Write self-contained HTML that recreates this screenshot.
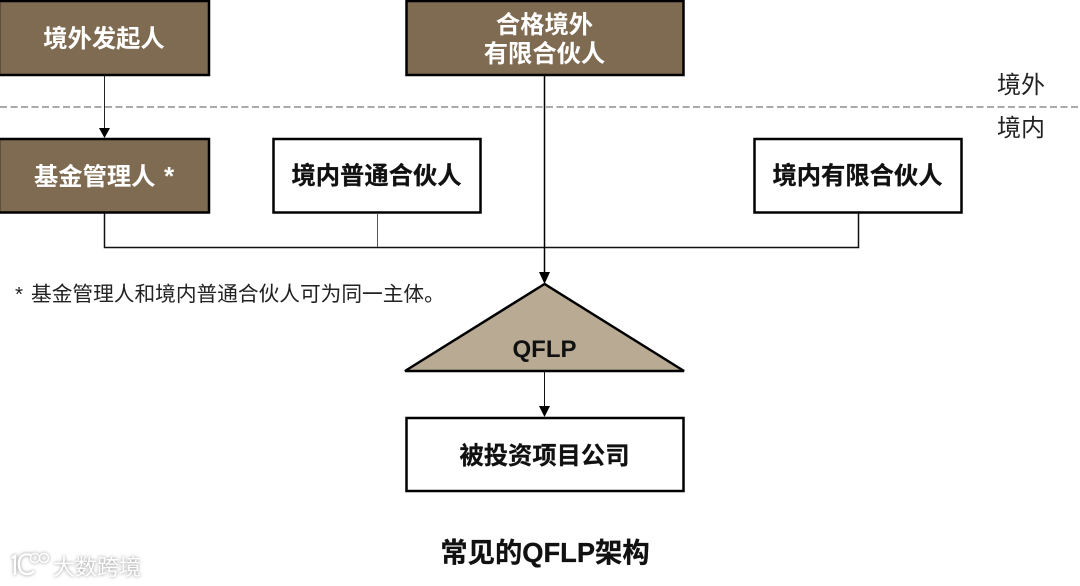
<!DOCTYPE html>
<html lang="zh">
<head>
<meta charset="utf-8">
<style>
html,body{margin:0;padding:0;background:#fff;width:1080px;height:586px;overflow:hidden}
svg{display:block}
text{font-family:"Liberation Sans","Noto Sans CJK SC",sans-serif}
.b{font-weight:700;font-size:24.300px;text-anchor:middle}
.w{fill:#fff}
.k{fill:#111;stroke:#111;stroke-width:.25px}
.n{font-size:24px;fill:#222;font-weight:400}
</style>
</head>
<body>
<svg width="1080" height="586" viewBox="0 0 1080 586" xmlns="http://www.w3.org/2000/svg">
<!-- dashed boundary -->
<line x1="0" y1="107" x2="1080" y2="107" stroke="#555" stroke-width="1" stroke-dasharray="7 3.500"/>

<!-- boxes -->
<rect x="-1" y="1" width="210" height="74" fill="#7f6b52" stroke="#000" stroke-width="2.500"/>
<rect x="406.500" y="1" width="277" height="74" fill="#7f6b52" stroke="#000" stroke-width="2.500"/>
<rect x="-1" y="139" width="210" height="73.500" fill="#7f6b52" stroke="#000" stroke-width="2.500"/>
<rect x="273.500" y="139" width="207" height="73.500" fill="#fff" stroke="#000" stroke-width="2.500"/>
<rect x="754.500" y="139" width="207" height="73.500" fill="#fff" stroke="#000" stroke-width="2.500"/>
<rect x="406.500" y="418" width="277" height="73" fill="#fff" stroke="#000" stroke-width="2.500"/>

<!-- connectors -->
<line x1="104.500" y1="76" x2="104.500" y2="130" stroke="#222" stroke-width="1"/>
<polygon points="99,128 110,128 104.500,138" fill="#000"/>
<polyline points="104.500,213 104.500,247.500 858.500,247.500 858.500,213" fill="none" stroke="#111" stroke-width="1.500"/>
<line x1="377.500" y1="213" x2="377.500" y2="247" stroke="#555" stroke-width="1"/>
<line x1="544.500" y1="76" x2="544.500" y2="276" stroke="#000" stroke-width="1.500"/>
<polygon points="539,272 550,272 544.500,284" fill="#000"/>

<!-- triangle -->
<polygon points="544.500,284 405,371 684,371" fill="#b9aa94" stroke="#000" stroke-width="2.500" stroke-linejoin="miter" stroke-miterlimit="3"/>
<line x1="544.500" y1="372" x2="544.500" y2="410" stroke="#111" stroke-width="1"/>
<polygon points="539,406 550,406 544.500,417" fill="#000"/>

<!-- labels -->
<text class="b w" x="104" y="47">境外发起人</text>
<text class="b w" x="544.500" y="33">合格境外</text>
<text class="b w" x="544.500" y="62">有限合伙人</text>
<text class="b w" x="34" y="185" style="text-anchor:start">基金管理人</text>
<text class="b w" x="169" y="185" style="text-anchor:middle;font-size:26px">*</text>
<text class="b k" x="376.500" y="184">境内普通合伙人</text>
<text class="b k" x="857.500" y="184">境内有限合伙人</text>
<text class="b k" x="544.500" y="464">被投资项目公司</text>
<text x="544.500" y="357" text-anchor="middle" font-size="24" font-weight="700" fill="#111">QFLP</text>
<text x="545" y="562" text-anchor="middle" font-size="27.300" font-weight="700" fill="#111" stroke="#111" stroke-width=".25">常见的QFLP架构</text>
<text class="n" x="997" y="93">境外</text>
<text class="n" x="997" y="136">境内</text>
<text x="15" y="301" font-size="20.700" fill="#222">*</text>
<text x="31" y="301" font-size="20.700" fill="#222">基金管理人和境内普通合伙人可为同一主体。</text>

<!-- watermark -->
<g opacity="0.95" style="filter:drop-shadow(0 0 1.500px #888)">
<path d="M12 558 L15 556 V575 M31 555 C21 552 18 560 19 566 C20 575 29 576 34 571" fill="none" stroke="#fff" stroke-width="2.500"/>
<circle cx="35" cy="558" r="4.500" fill="none" stroke="#fff" stroke-width="1.500"/>
<circle cx="44" cy="558" r="4.500" fill="none" stroke="#fff" stroke-width="1.500"/>
<text x="53" y="575" font-size="22" fill="#fff">大数跨境</text>
</g>
</svg>
</body>
</html>
